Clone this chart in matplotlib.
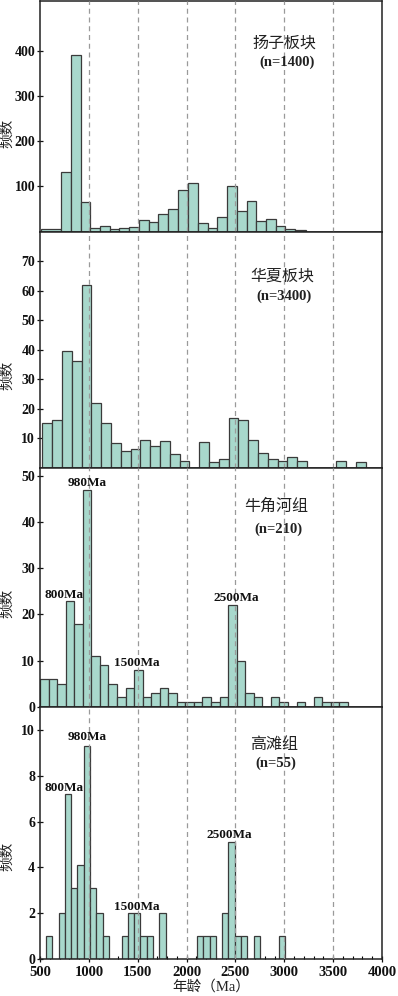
import numpy as np
import matplotlib
matplotlib.use("Agg")
import matplotlib.pyplot as plt
from matplotlib.ticker import MultipleLocator

# ---------------- data ----------------
# Panel 1: 扬子板块 (n=1400) — explicit bin edges (Ma) and counts
yz_edges = [510, 712, 814, 916, 1015, 1114, 1215, 1313, 1412, 1511, 1612, 1712,
            1813, 1913, 2013, 2120, 2216, 2312, 2412, 2513, 2615, 2714, 2812,
            2915, 3012, 3114, 3219]
yz_counts = [6, 131, 390, 65, 8, 12, 6, 8, 10, 25, 22, 40, 50, 92, 108, 20, 9,
             32, 101, 46, 67, 23, 29, 13, 6, 4]

# Panel 2: 华夏板块 (n=3400) — bins start 525 Ma, ~100 Ma wide
hx_start, hx_width = 525, 100.3
hx_counts = [15, 16, 39.5, 36, 62, 22, 15, 8.5, 5.5, 6.2, 9.4, 7.3, 9.2, 4.5,
             2.3, 0, 8.6, 2.0, 2.8, 16.7, 16.0, 9.5, 4.9, 2.9, 2.3, 3.7, 2.3,
             0, 0, 0, 2.3, 0, 1.9]

# Panel 3: 牛角河组 (n=210) — bins start 500 Ma, 87.5 Ma wide
nj_start, nj_width = 500, 87.5
nj_counts = [6, 6, 5, 23, 18, 47, 11, 9, 5, 2, 4, 8, 2, 3, 4, 3, 1, 1, 1, 2, 1,
             2, 22, 10, 3, 2, 0, 2, 1, 0, 1, 0, 2, 1, 1, 1]

# Panel 4: 高滩组 (n=55) — bins start 497 Ma, 64.4 Ma wide
gt_start, gt_width = 497, 64.4
gt_counts = [0, 1, 0, 2, 7.2, 3.1, 4.1, 9.3, 3.1, 2, 1, 0, 0, 1, 2, 2, 1, 1, 0,
             2, 0, 0, 0, 0, 0, 1, 1, 1, 0, 2, 5.1, 1, 1, 0, 1, 0, 0, 0, 1]

titles = ["扬子板块", "华夏板块", "牛角河组", "高滩组"]
n_labels = ["(n=1400)", "(n=3400)", "(n=210)", "(n=55)"]

peak_text = ["800Ma", "980Ma", "1500Ma", "2500Ma"]
nj_peak_age = [742, 981, 1488, 2509]
nj_peak_y = [24.2, 48.5, 9.5, 23.6]
gt_peak_age = [751, 986, 1493, 2439]
gt_peak_y = [7.48, 9.66, 2.29, 5.42]

ref_ages = [1000, 1500, 2000, 2500, 3000, 3500]
x_ticks = [500, 1000, 1500, 2000, 2500, 3000, 3500, 4000]

# ---------------- style ----------------
BAR_FC = "#a8d8cc"
BAR_EC = "#3a3a3a"
SERIF = ["Liberation Serif", "DejaVu Serif"]
CJK = ["Noto Sans CJK SC", "DejaVu Sans"]

fig = plt.figure(figsize=(3.98, 9.96), dpi=100)
W, H = 398.0, 996.0
left, right = 40, 382
# (top_px, bottom_px) for each panel
panel_px = [(1, 231.7), (231.7, 467.7), (467.7, 706.7), (706.7, 959.3)]
ylims = [510, 80, 51.8, 11.0]
yticks = [[100, 200, 300, 400], [10, 20, 30, 40, 50, 60, 70],
          [0, 10, 20, 30, 40, 50], [0, 2, 4, 6, 8, 10]]
ylabel_y = [0.428, 0.393, 0.434, 0.409]
title_pos = [(0.716, 0.818, 0.735), (0.708, 0.812, 0.727),
             (0.691, 0.838, 0.743), (0.684, 0.850, 0.775)]

axes = []
for i, (t, b) in enumerate(panel_px):
    ax = fig.add_axes([left / W, 1 - b / H, (right - left) / W, (b - t) / H])
    axes.append(ax)

def draw_bars(ax, lefts, widths, counts):
    lefts = np.asarray(lefts, float)
    widths = np.broadcast_to(np.asarray(widths, float), lefts.shape)
    counts = np.asarray(counts, float)
    m = counts > 0
    ax.bar(lefts[m], counts[m], width=widths[m], align="edge",
           facecolor=BAR_FC, edgecolor=BAR_EC, linewidth=0.9, zorder=2)

# panel 1
e = np.asarray(yz_edges, float)
draw_bars(axes[0], e[:-1], np.diff(e), yz_counts)
# panel 2
draw_bars(axes[1], hx_start + hx_width * np.arange(len(hx_counts)), hx_width, hx_counts)
# panel 3
draw_bars(axes[2], nj_start + nj_width * np.arange(len(nj_counts)), nj_width, nj_counts)
# panel 4
draw_bars(axes[3], gt_start + gt_width * np.arange(len(gt_counts)), gt_width, gt_counts)

for i, ax in enumerate(axes):
    ax.set_xlim(500, 4000)
    ax.set_ylim(0, ylims[i])
    for a in ref_ages:
        ax.axvline(a, color="#9a9a9a", linestyle=(0, (4, 3)), linewidth=0.9, zorder=3)
    for s in ax.spines.values():
        s.set_linewidth(1.1)
        s.set_color("#222222")
    ax.set_yticks(yticks[i])
    ax.tick_params(axis="y", direction="inout", length=5, width=0.9, pad=1,
                   labelsize=10, colors="#111111")
    for lab in ax.get_yticklabels():
        lab.set_fontfamily(SERIF)
        lab.set_fontweight("bold")
    ax.text(-0.097, ylabel_y[i], "频数", transform=ax.transAxes, rotation=90,
            ha="center", va="center", fontsize=10.5, family=CJK, color="#222222")
    tx, ty, ny = title_pos[i]
    ax.text(tx, ty, titles[i], transform=ax.transAxes, ha="center", va="center",
            fontsize=11.5, family=CJK, color="#222222")
    ax.text(tx + 0.005, ny, n_labels[i], transform=ax.transAxes, ha="center",
            va="center", fontsize=10.5, family=SERIF, fontweight="bold",
            color="#222222")
    if i < 3:
        ax.set_xticks([])
    else:
        ax.set_xticks(x_ticks)
        ax.xaxis.set_minor_locator(MultipleLocator(100))
        ax.tick_params(axis="x", which="major", direction="inout", length=5,
                       width=0.9, pad=2, labelsize=10.5, colors="#111111")
        ax.tick_params(axis="x", which="minor", direction="in", length=2.5,
                       width=0.8)
        for lab in ax.get_xticklabels():
            lab.set_fontfamily(SERIF)
            lab.set_fontweight("bold")
        ax.set_xlabel("年龄（Ma）", fontsize=10.5,
                      family=["Liberation Serif", "Noto Sans CJK SC"],
                      color="#222222", labelpad=1)

for ax, ages, ys in [(axes[2], nj_peak_age, nj_peak_y), (axes[3], gt_peak_age, gt_peak_y)]:
    for txt, a, y in zip(peak_text, ages, ys):
        ax.text(a, y, txt, ha="center", va="center", fontsize=9.5,
                family=SERIF, fontweight="bold", color="#111111", zorder=4)

fig.savefig("out.png", dpi=100)
